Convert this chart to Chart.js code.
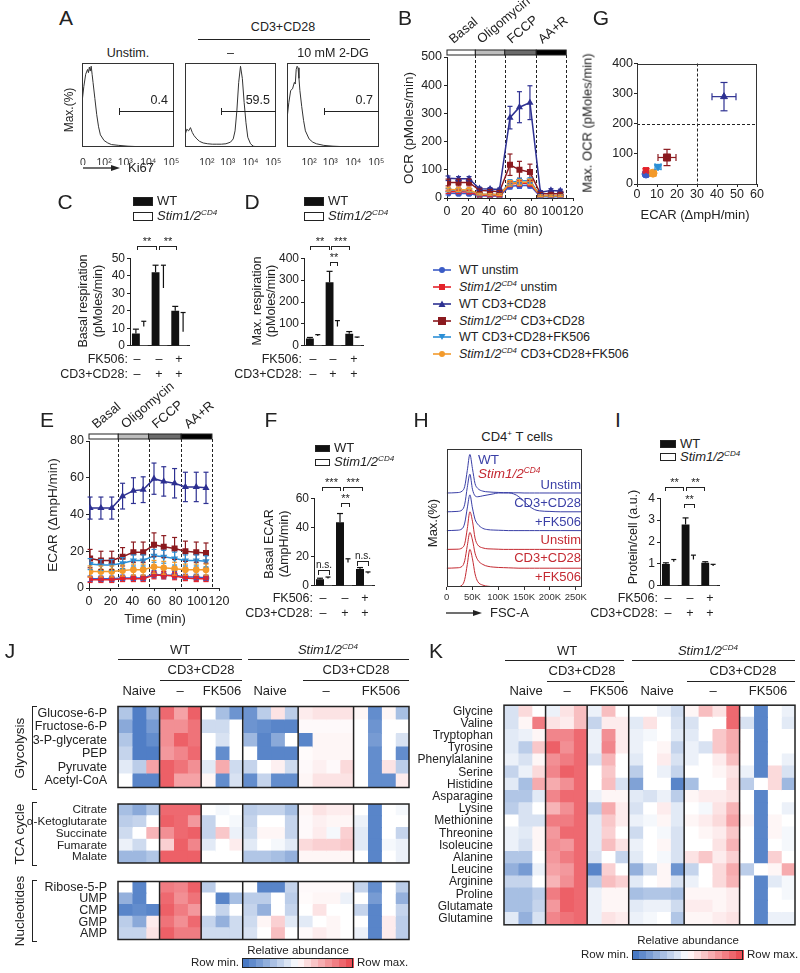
<!DOCTYPE html>
<html>
<head>
<meta charset="utf-8">
<title>Stim1/2 T cell metabolism</title>
<script src="https://cdn.jsdelivr.net/npm/chart.js@4.4.1/dist/chart.umd.min.js"></script>
<style>
  body { margin: 0; width: 800px; height: 973px; position: relative; overflow: hidden; background: #fff;
         font-family: "Liberation Sans", Arial, Helvetica, sans-serif; color: #222; }
  canvas { position: absolute; }
  .t { position: absolute; white-space: nowrap; line-height: 1.15; }
  .t sup { font-size: 62%; position: relative; top: -0.6em; vertical-align: baseline; line-height: 0; }
  .box { position: absolute; box-sizing: border-box; }
</style>
</head>
<body>
<script>
// ---------------- data ----------------

// A: Ki67 histograms (x in display units of the biexponential axis, y in % of max)
const kiTickPos = [1, 24, 47, 72, 97];
const kiTickLabels = ['0', '10²', '10³', '10⁴', '10⁵'];
const kiTitles = ['Unstim.', '–', '10 mM 2-DG'];
const kiGateValues = ['0.4', '59.5', '0.7'];
const kiUnstimX = [0, 2, 4, 6, 7, 8, 9, 10, 11, 12, 14, 16, 18, 20, 24, 28, 32, 40, 50, 60, 80, 100];
const kiUnstimY = [55, 75, 90, 96, 92, 99, 94, 100, 90, 80, 60, 40, 25, 15, 8, 5, 3, 2, 1, 0.5, 0, 0];
const kiStimX = [0, 2, 4, 6, 8, 10, 13, 16, 20, 25, 30, 35, 40, 45, 50, 53, 55, 57, 59, 61, 63, 65, 67, 69, 72, 75, 80, 90, 100];
const kiStimY = [15, 22, 20, 24, 18, 14, 10, 7, 5, 4, 3.5, 3.5, 3.5, 4, 6, 10, 20, 45, 80, 100, 85, 55, 30, 12, 4, 1, 0, 0, 0];
const kiDgX = [0, 2, 4, 6, 8, 9, 10, 11, 12, 13, 14, 16, 18, 20, 24, 28, 32, 40, 50, 60, 80, 100];
const kiDgY = [35, 55, 70, 72, 80, 78, 96, 100, 98, 85, 70, 50, 33, 20, 10, 6, 4, 2, 1, 0.5, 0, 0];

// B / E: Seahorse time courses
const times = [1, 11, 21, 31, 41, 50, 60, 69, 79, 89, 99, 108];
const injections = [0, 27, 55, 85, 113.5];
const protocolSteps = ['Basal', 'Oligomycin', 'FCCP', 'AA+R'];
const groupNames = ['WT unstim', '<i>Stim1/2<sup>CD4</sup></i> unstim', 'WT CD3+CD28',
  '<i>Stim1/2<sup>CD4</sup></i> CD3+CD28', 'WT CD3+CD28+FK506', '<i>Stim1/2<sup>CD4</sup></i> CD3+CD28+FK506'];

const ocrWtUnstim   = [17, 16, 16, 8, 7, 7, 42, 44, 45, 4, 4, 4];
const ocrStimUnstim = [22, 22, 21, 10, 9, 9, 50, 52, 52, 6, 6, 6];
const ocrWtCd3      = [70, 68, 68, 33, 32, 30, 285, 322, 338, 20, 27, 25];
const ocrStimCd3    = [55, 55, 55, 27, 25, 22, 118, 100, 92, 15, 15, 15];
const ocrWtFk       = [28, 27, 27, 13, 12, 12, 55, 60, 62, 7, 7, 7];
const ocrStimFk     = [30, 29, 28, 14, 13, 12, 52, 55, 57, 8, 8, 8];
const ocrErrSmall   = [6, 6, 6, 3, 3, 3, 10, 10, 10, 3, 3, 3];
const ocrErrWtCd3   = [8, 8, 8, 5, 5, 5, 40, 55, 60, 6, 6, 6];
const ocrErrStimCd3 = [12, 12, 12, 5, 5, 5, 38, 30, 28, 5, 5, 5];

const ecarWtUnstim   = [5, 5, 5, 5.5, 5.5, 5.5, 7.5, 7, 7, 6, 6, 5.5];
const ecarStimUnstim = [4.5, 4.5, 4.5, 5, 5, 5, 7, 7, 6.5, 5.5, 5, 5];
const ecarWtCd3      = [43.5, 43.5, 43.5, 50, 53, 53.5, 59.5, 58, 57, 55, 55, 54.5];
const ecarStimCd3    = [16, 15, 15, 17, 19.5, 19.5, 23.5, 22.5, 21.5, 20, 19.5, 19];
const ecarWtFk       = [13, 12.5, 12.5, 13.5, 15, 15, 17.5, 17, 16, 15, 15, 14.5];
const ecarStimFk     = [9, 9, 9, 9.5, 10, 10, 11.5, 11, 10.5, 10, 10, 10];
const ecarErrUnstim  = [1.5, 1.5, 1.5, 1.5, 1.5, 1.5, 2, 2, 2, 1.5, 1.5, 1.5];
const ecarErrFk      = [3, 3, 3, 3, 3, 3, 3.5, 3.5, 3.5, 3, 3, 3];
const ecarErrWtCd3   = [6, 6, 6, 7, 7, 7, 8.5, 8, 8, 8, 8, 8.5];
const ecarErrStimCd3 = [5, 5, 5, 5, 5.5, 5.5, 6.5, 6, 6, 5.5, 5.5, 5.5];

// G: max OCR vs ECAR
const gEcar      = [4.5, 4.5, 43.5, 15, 10.5, 8];
const gEcarErr   = [1, 1, 6, 4.5, 1.5, 1.5];
const gMaxOcr    = [33, 45, 290, 88, 57, 36];
const gMaxOcrErr = [5, 6, 47, 27, 8, 4];
const gCuts = [30, 200];

// C, D, F, I: bar charts (unstim, CD3+CD28, CD3+CD28+FK506)
const fk506Row = ['–', '–', '+'];
const cd3Row   = ['–', '+', '+'];
const basalRespWt = [7, 42, 20],      basalRespWtErr = [2.5, 4, 2.5];
const basalRespStim = [11, 33, 8],    basalRespStimErr = [3, 13, 11];
const maxRespWt = [33, 290, 55],      maxRespWtErr = [5, 50, 10];
const maxRespStim = [45, 88, 36],     maxRespStimErr = [6, 27, 4];
const basalEcarWt = [4.5, 43.5, 11.5], basalEcarWtErr = [0.7, 6, 1];
const basalEcarStim = [5, 16, 8.5],   basalEcarStimErr = [1, 2.5, 1];
const proteinWt = [1, 2.8, 1.05],     proteinWtErr = [0.05, 0.3, 0.05];
const proteinStim = [1.1, 1.2, 0.9],  proteinStimErr = [0.1, 0.2, 0.08];

// H: FSC-A histograms (x in thousands)
const fscX = [0, 20, 30, 35, 40, 45, 50, 55, 60, 70, 80, 90, 100, 110, 120, 130, 140, 150, 160, 170, 180, 200, 220, 262];
const fscTicks = [0, 50, 100, 150, 200, 250];
const fscLabels = ['Unstim', 'CD3+CD28', '+FK506', 'Unstim', 'CD3+CD28', '+FK506'];
const fscWtUnstim   = [0, 0.02, 0.1, 0.35, 1.2, 2.05, 1.3, 0.5, 0.25, 0.1, 0.06, 0.04, 0.03, 0.02, 0.02, 0.01, 0.01, 0, 0, 0, 0, 0, 0, 0];
const fscWtCd3      = [0, 0.02, 0.1, 0.4, 1.3, 2.0, 1.2, 0.85, 0.8, 0.85, 0.9, 0.95, 1.0, 1.0, 1.0, 0.95, 0.8, 0.55, 0.3, 0.12, 0.05, 0.02, 0, 0];
const fscWtFk       = [0, 0.02, 0.1, 0.4, 1.2, 1.9, 1.2, 0.6, 0.35, 0.12, 0.05, 0.03, 0.02, 0.01, 0, 0, 0, 0, 0, 0, 0, 0, 0, 0];
const fscStimUnstim = [0, 0.01, 0.08, 0.3, 1.1, 2.0, 1.5, 0.6, 0.25, 0.08, 0.03, 0.02, 0.01, 0, 0, 0, 0, 0, 0, 0, 0, 0, 0, 0];
const fscStimCd3    = [0, 0.02, 0.1, 0.4, 1.2, 1.9, 1.5, 0.8, 0.45, 0.2, 0.1, 0.06, 0.04, 0.03, 0.02, 0.01, 0, 0, 0, 0, 0, 0, 0, 0];
const fscStimFk     = [0, 0.01, 0.1, 0.4, 1.2, 2.0, 1.5, 0.7, 0.3, 0.1, 0.04, 0.02, 0.01, 0, 0, 0, 0, 0, 0, 0, 0, 0, 0, 0];

// J, K: heatmaps, row-scaled (-1 = row min, +1 = row max)
// columns: WT naive(3) | WT CD3+CD28(3) | WT FK506(3) | Stim naive(4) | Stim CD3+CD28(4) | Stim FK506(4)
const colGroupSizes = [3, 3, 3, 4, 4, 4];
const glycolysisRows = ['Glucose-6-P', 'Fructose-6-P', '3-P-glycerate', 'PEP', 'Pyruvate', 'Acetyl-CoA'];
const glycolysis = [
  [-0.4, -0.9, -0.55, 0.8, 0.5, 0.85, 0, -0.45, -0.75, -0.75, -0.35, 0.15, -0.35, 0.1, 0.15, 0.15, 0.15, 0.05, -0.8, 0.05, -0.45],
  [-0.6, -0.9, -0.7, 0.6, 0.6, 0.75, -0.25, -0.25, 0, -0.75, -0.8, -0.85, -0.85, 0.03, 0.03, 0.03, 0.03, 0, -0.75, 0, 0],
  [-0.4, -0.9, -0.8, 0.6, 0.85, 0.75, 0, -0.2, 0, -0.5, -0.85, -0.6, 0, -0.85, 0.05, 0.05, 0.05, 0, -0.7, 0, -0.2],
  [-0.3, -0.9, -0.9, 0.55, 0.65, 0.8, 0, -0.8, 0, 0, -0.85, -0.85, -0.85, 0.02, 0.05, 0.05, 0.05, 0, -0.8, 0, -0.8],
  [-0.15, -0.35, 0.5, 0.85, 0.75, 0.6, -0.15, 0.45, -0.25, -0.3, 0, 0.08, -0.25, 0.03, 0.08, 0.03, 0.2, 0, -0.8, 0.15, -0.35],
  [0, -0.85, -0.85, 0.85, 0.5, 0.5, 0.05, -0.8, -0.2, -0.8, -0.3, -0.8, -0.8, 0.05, 0.15, 0.15, 0.15, 0, -0.8, -0.8, 0.1]
];
const tcaRows = ['Citrate', 'α-Ketoglutarate', 'Succinate', 'Fumarate', 'Malate'];
const tca = [
  [-0.45, -0.6, -0.4, 0.8, 0.8, 0.8, 0, -0.05, 0, -0.35, -0.3, -0.3, -0.45, 0.05, 0.15, 0.1, 0.1, 0, -0.85, 0, -0.05],
  [-0.35, -0.3, 0, 0.85, 0.8, 0.55, -0.3, 0, -0.05, -0.3, 0, 0, -0.3, 0.03, 0.08, 0.05, 0.05, -0.1, -0.85, 0, 0],
  [-0.25, 0, 0.4, 0.6, 0.8, 0.85, -0.3, 0.3, -0.1, -0.25, 0.05, 0.05, -0.3, 0.03, 0.1, -0.05, 0.25, -0.15, -0.85, 0, -0.3],
  [-0.1, -0.25, 0, 0.25, 0.85, 0.65, -0.15, 0, 0.1, -0.15, 0, -0.05, -0.15, 0.2, 0.25, 0.25, 0.3, -0.15, -0.85, -0.05, -0.1],
  [-0.5, -0.5, -0.4, 0.85, 0.85, 0.85, 0, 0, 0, -0.4, -0.4, -0.45, -0.55, 0.05, 0.05, 0.05, 0.05, 0, -0.85, 0, -0.1]
];
const nucleotideRows = ['Ribose-5-P', 'UMP', 'CMP', 'GMP', 'AMP'];
const nucleotides = [
  [0, -0.85, 0, 0.7, 0.65, 0.85, -0.35, 0, 0, 0, -0.85, -0.85, -0.3, 0.03, 0.03, 0.03, 0.03, -0.3, -0.8, 0, -0.35],
  [-0.55, -0.85, 0, 0.8, 0.6, 0.75, 0, -0.85, -0.45, -0.35, -0.35, 0, -0.35, 0.02, 0.05, 0.05, -0.1, 0, -0.7, 0, -0.55],
  [-0.85, -0.8, -0.85, 0.85, 0.7, 0.55, 0, -0.3, 0, -0.3, -0.55, 0, -0.3, 0, 0.15, 0, 0, -0.3, -0.85, 0, -0.3],
  [-0.35, -0.6, 0.1, 0.75, 0.6, 0.8, -0.3, -0.55, -0.25, -0.25, 0.05, 0.25, -0.15, -0.15, 0, 0.05, 0, 0, -0.85, 0.1, -0.35],
  [-0.3, -0.3, 0.15, 0.85, 0.7, 0.7, -0.25, -0.25, -0.25, -0.2, 0, 0.35, 0, 0.03, 0.1, 0.05, 0, -0.1, -0.85, 0.1, -0.35]
];
const aminoRows = ['Glycine', 'Valine', 'Tryptophan', 'Tyrosine', 'Phenylalanine', 'Serine', 'Histidine', 'Asparagine', 'Lysine',
  'Methionine', 'Threonine', 'Isoleucine', 'Alanine', 'Leucine', 'Arginine', 'Proline', 'Glutamate', 'Glutamine'];
const aminoAcids = [
  [-0.2, 0.2, 0, -0.1, 0.15, 0.35, -0.1, 0.35, 0, 0, 0, -0.1, -0.25, 0.05, 0.35, 0.15, 0.8, 0, -0.85, 0, -0.1],
  [-0.2, 0.05, 0.7, 0.15, 0.1, 0.35, -0.3, 0.1, 0.1, -0.15, 0.15, 0, -0.2, -0.2, 0, 0, 0.8, -0.2, -0.85, 0, -0.15],
  [-0.15, -0.1, 0.05, 0.65, 0.65, 0.8, -0.1, 0.6, 0.1, -0.1, -0.05, 0, -0.15, -0.15, 0, 0.3, 0.45, 0, -0.85, 0, 0],
  [-0.15, -0.35, 0.3, 0.85, 0.6, 0.8, -0.1, 0.65, 0.1, -0.1, 0, 0.05, -0.3, -0.1, -0.2, 0.3, 0.45, 0, -0.85, 0, 0],
  [-0.1, -0.2, 0.05, 0.6, 0.7, 0.8, -0.2, 0.4, 0, -0.15, 0, 0.1, -0.2, -0.1, 0, 0.1, 0.35, 0, -0.85, 0, -0.1],
  [-0.3, -0.1, 0.2, 0.65, 0.85, 0.8, 0, 0.3, 0, -0.35, 0, -0.1, -0.3, 0, 0, 0.05, 0.15, -0.1, -0.85, 0.2, -0.2],
  [-0.15, -0.45, 0.45, 0.45, 0.6, 0.8, 0, 0.35, -0.2, -0.65, 0, 0, -0.85, -0.45, 0, 0, 0.2, -0.35, 0, 0.2, -0.5],
  [-0.4, -0.4, -0.15, 0.65, 0.8, 0.8, -0.1, 0.05, 0.05, -0.15, -0.2, -0.1, -0.35, 0.05, 0.1, 0.1, 0.15, 0, -0.85, 0, 0],
  [-0.35, -0.2, 0, 0.4, 0.6, 0.8, -0.35, 0.45, 0.1, -0.2, 0, 0.1, -0.15, 0, -0.05, 0.15, 0.4, 0, -0.85, 0, -0.1],
  [0, -0.2, -0.2, 0.7, 0.7, 0.8, -0.15, 0.3, 0.1, -0.1, -0.05, 0.05, -0.15, 0.05, 0.1, 0.2, 0.5, 0.05, -0.85, 0.05, 0],
  [-0.1, -0.15, 0.05, 0.55, 0.8, 0.8, -0.15, 0.25, 0, -0.25, 0, -0.05, -0.2, 0, 0.05, 0.1, 0.3, 0, -0.85, 0.05, -0.05],
  [-0.1, -0.2, 0.05, 0.6, 0.55, 0.8, -0.15, 0.35, 0.15, -0.1, 0, 0.05, -0.2, 0, 0, 0.15, 0.4, 0, -0.85, 0, -0.05],
  [-0.4, -0.4, 0, 0.55, 0.7, 0.8, -0.2, 0, -0.3, -0.15, 0, -0.05, -0.2, 0.15, 0.3, 0.1, 0.25, 0, -0.85, 0.25, 0],
  [-0.55, -0.7, -0.1, 0.5, 0.55, 0.8, -0.85, 0.25, 0, -0.55, -0.25, 0.05, -0.75, -0.3, 0, 0.2, 0.45, -0.35, 0, 0.05, 0.45],
  [-0.3, -0.3, 0, 0.4, 0.6, 0.8, -0.35, 0.35, 0.25, -0.15, 0, 0.05, -0.2, -0.1, 0, 0.2, 0.4, 0, -0.85, -0.15, -0.05],
  [-0.45, -0.45, -0.35, 0.7, 0.85, 0.8, -0.1, 0.05, 0.05, -0.45, -0.4, -0.4, -0.45, 0.05, 0.05, 0.05, 0.1, 0, -0.85, 0, -0.05],
  [-0.45, -0.45, -0.3, 0.55, 0.85, 0.8, -0.1, 0.05, 0.05, -0.15, -0.1, -0.1, -0.25, 0.1, 0.1, 0.05, 0.1, 0, -0.85, 0, 0],
  [-0.15, -0.55, -0.2, 0.65, 0.75, 0.8, -0.1, 0.15, 0.1, -0.1, -0.05, 0, -0.4, 0.05, 0.05, 0.1, 0.15, 0, -0.85, -0.1, -0.1]
];

// ---------------- styles ----------------
const seriesColors = ['#3b5cc6', '#e4232b', '#2e3192', '#8b1a1f', '#2b8fd6', '#f39a2b'];
const seriesMarkers = ['circle', 'rect', 'triangle', 'rect', 'triangle', 'circle'];
const seriesRot = [0, 0, 0, 0, 180, 0];
const drawOrder = [5, 4, 0, 1, 3, 2];
const wtBlue = '#3a3fa6', stimRed = '#c42a32';
const ink = '#222';

Chart.defaults.font.family = '"Liberation Sans", Arial, Helvetica, sans-serif';
Chart.defaults.color = ink;
Chart.defaults.plugins.legend.display = false;
Chart.defaults.plugins.tooltip.enabled = false;

// ---------------- helpers ----------------
function text(s, x, y, o = {}) {
  const d = document.createElement('div');
  d.className = 't';
  d.innerHTML = s;
  d.style.left = x + 'px';
  d.style.top = y + 'px';
  d.style.fontSize = (o.fs || 12.5) + 'px';
  if (o.color) d.style.color = o.color;
  const tx = { l: '0', c: '-50%', r: '-100%' }[o.a || 'c'];
  d.style.transform = `translate(${tx},-50%)` + (o.rot ? ` rotate(${o.rot}deg)` : '');
  document.body.appendChild(d);
  return d;
}
function slant(s, x, y) {
  const d = text(s, x, y, { a: 'l', fs: 13 });
  d.style.transformOrigin = '0 100%';
  d.style.transform = 'translate(0,-100%) rotate(-40deg)';
}
function rule(x1, x2, y, w = 1) {
  const d = document.createElement('div');
  d.className = 'box';
  d.style.cssText += `left:${x1}px;top:${y}px;width:${x2 - x1}px;height:${w}px;background:${ink}`;
  document.body.appendChild(d);
}
function vrule(x, y1, y2, w = 1) {
  const d = document.createElement('div');
  d.className = 'box';
  d.style.cssText += `left:${x}px;top:${y1}px;width:${w}px;height:${y2 - y1}px;background:${ink}`;
  document.body.appendChild(d);
}
function bracket(x1, x2, y, label, leg = 4, fs = 11) {
  const d = document.createElement('div');
  d.className = 'box';
  d.style.cssText += `left:${x1}px;top:${y}px;width:${x2 - x1}px;height:${leg}px;border:1px solid ${ink};border-bottom:none`;
  document.body.appendChild(d);
  text(label, (x1 + x2) / 2, y - 5, { fs });
}
function arrow(x1, x2, y) {
  const w = x2 - x1;
  document.body.insertAdjacentHTML('beforeend',
    `<svg width="${w + 1}" height="8" style="position:absolute;left:${x1}px;top:${y - 4}px">` +
    `<line x1="0" y1="4" x2="${w - 6}" y2="4" stroke="${ink}" stroke-width="1.3"/>` +
    `<polygon points="${w - 9},1 ${w},4 ${w - 9},7" fill="${ink}"/></svg>`);
}
function square(x, y, w, h, fill) {
  const d = document.createElement('div');
  d.className = 'box';
  d.style.cssText += `left:${x}px;top:${y}px;width:${w}px;height:${h}px;background:${fill};border:1px solid ${ink}`;
  document.body.appendChild(d);
}
function barLegend(x, y, w, h, gap) {
  square(x, y - h / 2, w, h, '#111');
  square(x, y + gap - h / 2, w, h, '#fff');
  text('WT', x + w + 4, y, { a: 'l', fs: 13 });
  text('<i>Stim1/2<sup>CD4</sup></i>', x + w + 4, y + gap, { a: 'l', fs: 13 });
}
function treatmentRows(xRight, xs, y) {
  text('FK506:', xRight, y, { a: 'r' });
  text('CD3+CD28:', xRight, y + 15, { a: 'r' });
  xs.forEach((x, i) => { text(fk506Row[i], x, y); text(cd3Row[i], x, y + 15); });
}
function heat(v) {
  const c = v < 0 ? [60, 112, 192] : [234, 68, 76];
  const t = Math.min(1, Math.abs(v));
  return `rgb(${c.map(k => Math.round(255 + (k - 255) * t)).join(',')})`;
}
function colorBar(x, y, w, h) {
  const n = 16;
  for (let i = 0; i < n; i++) {
    const d = document.createElement('div');
    d.className = 'box';
    d.style.cssText += `left:${x + i * w / n}px;top:${y}px;width:${w / n + 0.6}px;height:${h}px;background:${heat(-1 + (2 * i + 1) / n)}`;
    document.body.appendChild(d);
  }
  const b = document.createElement('div');
  b.className = 'box';
  b.style.cssText += `left:${x}px;top:${y}px;width:${w}px;height:${h}px;border:1px solid ${ink}`;
  document.body.appendChild(b);
}

function lin(min, max, step, o = {}) {
  return {
    type: 'linear', min, max,
    ticks: { stepSize: step, font: { size: o.fs || 12 }, padding: o.pad ?? 2, color: ink, autoSkip: false, maxRotation: 0 },
    grid: { display: true, drawOnChartArea: false, drawTicks: true, tickLength: o.tl ?? 3, color: ink, lineWidth: 1 },
    border: { display: true, color: ink, width: 1 }
  };
}

// box = plot area [x0, y0, x1, y1] in page px; m = [top, right, bottom, left] margins
function plot(box, m, cfg) {
  const [x0, y0, x1, y1] = box;
  const [mt, mr, mb, ml] = m;
  const W = x1 - x0 + ml + mr, H = y1 - y0 + mt + mb;
  const cv = document.createElement('canvas');
  cv.width = W; cv.height = H;
  Object.assign(cv.style, { left: (x0 - ml) + 'px', top: (y0 - mt) + 'px', width: W + 'px', height: H + 'px' });
  document.body.appendChild(cv);
  const o = cfg.options;
  o.responsive = false; o.animation = false; o.devicePixelRatio = 1;
  const sx = o.scales.x, sy = o.scales.y;
  o.layout = { padding: { top: mt, right: mr, bottom: sx.display === false ? mb : 0, left: sy.display === false ? ml : 0 } };
  if (sx.display !== false) sx.afterFit = s => { s.height = mb; };
  if (sy.display !== false) sy.afterFit = s => { s.width = ml; };
  const chart = new Chart(cv, cfg);
  chart.pageLeft = x0 - ml; chart.pageTop = y0 - mt;
  return chart;
}

// ---------------- plugins ----------------
const framePlugin = {
  id: 'frame',
  afterDraw(chart) {
    const { ctx, chartArea: a } = chart;
    ctx.save();
    ctx.strokeStyle = '#333'; ctx.lineWidth = 1;
    ctx.strokeRect(Math.round(a.left) + 0.5, Math.round(a.top) + 0.5, Math.round(a.width) - 1, Math.round(a.height) - 1);
    ctx.restore();
  }
};
const errPlugin = {
  id: 'errs',
  afterDatasetsDraw(chart) {
    const { ctx, scales: { x, y } } = chart;
    chart.data.datasets.forEach((ds, i) => {
      if (!ds.err) return;
      const meta = chart.getDatasetMeta(i);
      const cap = ds.cap || 2.5;
      ctx.save();
      ctx.strokeStyle = ds.errColor || ds.borderColor;
      ctx.lineWidth = ds.errWidth || 1.2;
      const seg = (ax, ay, bx, by) => { ctx.beginPath(); ctx.moveTo(ax, ay); ctx.lineTo(bx, by); ctx.stroke(); };
      meta.data.forEach((el, j) => {
        const raw = ds.data[j];
        const vy = typeof raw === 'object' ? raw.y : raw;
        const top = y.getPixelForValue(vy + ds.err[j]);
        const bot = ds.upOnly ? el.y : y.getPixelForValue(vy - ds.err[j]);
        seg(el.x, top, el.x, bot);
        seg(el.x - cap, top, el.x + cap, top);
        if (!ds.upOnly) seg(el.x - cap, bot, el.x + cap, bot);
        if (ds.xerr) {
          const l = x.getPixelForValue(raw.x - ds.xerr[j]), r = x.getPixelForValue(raw.x + ds.xerr[j]);
          seg(l, el.y, r, el.y);
          seg(l, el.y - cap, l, el.y + cap);
          seg(r, el.y - cap, r, el.y + cap);
        }
      });
      ctx.restore();
    });
  }
};
const protocolPlugin = {
  id: 'protocol',
  beforeDatasetsDraw(chart) {
    const { ctx, chartArea: a, scales: { x } } = chart;
    const shades = ['#ffffff', '#bdbdbd', '#6b6b6b', '#000000'];
    ctx.save();
    ctx.lineWidth = 1; ctx.strokeStyle = ink;
    for (let i = 0; i < protocolSteps.length; i++) {
      const l = x.getPixelForValue(injections[i]), r = x.getPixelForValue(injections[i + 1]);
      ctx.fillStyle = shades[i];
      ctx.fillRect(l, a.top - 7, r - l, 5);
      ctx.strokeRect(l, a.top - 7, r - l, 5);
    }
    ctx.setLineDash([3, 2]);
    for (let i = 1; i < injections.length; i++) {
      const px = Math.round(x.getPixelForValue(injections[i])) + 0.5;
      ctx.beginPath(); ctx.moveTo(px, a.top - 2); ctx.lineTo(px, a.bottom); ctx.stroke();
    }
    ctx.restore();
  }
};
const cutPlugin = {
  id: 'cuts',
  beforeDatasetsDraw(chart) {
    const { ctx, chartArea: a, scales: { x, y } } = chart;
    ctx.save();
    ctx.strokeStyle = ink; ctx.lineWidth = 1; ctx.setLineDash([3, 2]);
    const px = Math.round(x.getPixelForValue(gCuts[0])) + 0.5, py = Math.round(y.getPixelForValue(gCuts[1])) + 0.5;
    ctx.beginPath(); ctx.moveTo(px, a.top); ctx.lineTo(px, a.bottom); ctx.stroke();
    ctx.beginPath(); ctx.moveTo(a.left, py); ctx.lineTo(a.right, py); ctx.stroke();
    ctx.restore();
  }
};
const groupPlugin = {
  id: 'groups',
  afterDatasetsDraw(chart) {
    const { ctx, chartArea: a, scales: { x } } = chart;
    ctx.save();
    ctx.strokeStyle = ink; ctx.lineWidth = 1.5;
    let c = 0;
    colGroupSizes.slice(0, -1).forEach(n => {
      c += n;
      const px = x.getPixelForValue(c);
      ctx.beginPath(); ctx.moveTo(px, a.top); ctx.lineTo(px, a.bottom); ctx.stroke();
    });
    ctx.strokeRect(a.left, a.top, a.width, a.height);
    ctx.restore();
  }
};

// ---------------- panel builders ----------------
function timePanel(box, yMax, yStep, vals, errs) {
  return plot(box, [10, 14, 20, 40], {
    type: 'line',
    data: {
      datasets: vals.map((v, k) => ({
        data: times.map((t, i) => ({ x: t, y: v[i] })),
        err: errs[k], errColor: seriesColors[k], cap: 2.5,
        borderColor: seriesColors[k], backgroundColor: seriesColors[k], borderWidth: 1.5,
        pointStyle: seriesMarkers[k], pointRotation: seriesRot[k], pointRadius: k === 3 ? 3.2 : 2.6,
        tension: 0, order: drawOrder[k]
      }))
    },
    options: { scales: { x: lin(0, 120, 20, { fs: 12.5, pad: 3 }), y: lin(0, yMax, yStep, { fs: 12.5, pad: 2 }) } },
    plugins: [protocolPlugin, errPlugin]
  });
}
function barPanel(box, yMax, step, wt, wtErr, st, stErr) {
  return plot(box, [8, 4, 8, 30], {
    type: 'bar',
    data: {
      labels: fk506Row.map((_, i) => 'c' + i),
      datasets: [
        { data: wt, err: wtErr, upOnly: true, backgroundColor: '#111', errColor: '#111', cap: 3 },
        { data: st, err: stErr, upOnly: true, backgroundColor: '#fff', errColor: '#111', cap: 2.5 }
      ]
    },
    options: {
      datasets: { bar: { barPercentage: 1, categoryPercentage: 0.8, borderWidth: 0 } },
      scales: {
        x: { type: 'category', ticks: { display: false }, grid: { display: false }, border: { display: true, color: ink } },
        y: lin(0, yMax, step, { fs: 12, pad: 2 })
      }
    },
    plugins: [errPlugin]
  });
}
function heatPanel(box, rows, M, ml, fs) {
  const cols = M[0].length;
  return plot(box, [9, 2, 9, ml], {
    type: 'bar',
    data: {
      labels: rows,
      datasets: M[0].map((_, j) => ({
        data: rows.map(() => [j, j + 1]),
        backgroundColor: M.map(r => heat(r[j]))
      }))
    },
    options: {
      indexAxis: 'y',
      datasets: { bar: { grouped: false, barPercentage: 1, categoryPercentage: 1, borderWidth: 0, inflateAmount: 0.6 } },
      scales: {
        x: { type: 'linear', min: 0, max: cols, display: false },
        y: { type: 'category', ticks: { font: { size: fs }, padding: 3, color: ink, autoSkip: false },
             grid: { display: false }, border: { display: false } }
      }
    },
    plugins: [groupPlugin]
  });
}

// ---------------- A ----------------
text('A', 66, 18, { fs: 21 });
text('CD3+CD28', 283, 27);
rule(198, 370, 39);
const kiBoxes = [[82, 63, 174, 147], [185, 63, 276, 147], [287, 63, 379, 147]];
[[kiUnstimX, kiUnstimY], [kiStimX, kiStimY], [kiDgX, kiDgY]].forEach(([xs, ys], k) => {
  const [x0, y0, x1, y1] = kiBoxes[k];
  plot(kiBoxes[k], [2, 10, 18, 5], {
    type: 'line',
    data: { datasets: [{ data: xs.map((x, i) => ({ x, y: ys[i] })), borderColor: '#333', borderWidth: 1, pointRadius: 0, tension: 0 }] },
    options: {
      scales: {
        x: {
          type: 'linear', min: 0, max: 100,
          afterBuildTicks: s => { s.ticks = kiTickPos.slice(k ? 1 : 0).map(v => ({ value: v })); },
          ticks: { callback: v => kiTickLabels[kiTickPos.indexOf(v)], font: { size: 10.5 }, padding: 2, color: '#333', autoSkip: false, maxRotation: 0 },
          grid: { display: false }, border: { display: false }
        },
        y: { min: 0, max: 104, display: false }
      }
    },
    plugins: [framePlugin]
  });
  text(kiTitles[k], (x0 + x1) / 2, 53);
  const gx = x0 + (x1 - x0) * 0.4, gy = 111;
  rule(gx, x1, gy);
  vrule(gx, gy - 3, gy + 4);
  text(kiGateValues[k], x1 - 6, 100, { a: 'r', fs: 12.5 });
});
text('Max.(%)', 70, 110, { rot: -90, fs: 12 });
arrow(83, 120, 168);
text('Ki67', 128, 168, { a: 'l', fs: 13 });

// ---------------- B ----------------
text('B', 405, 18, { fs: 21 });
const chartB = timePanel([447, 57, 573, 198], 500, 100,
  [ocrWtUnstim, ocrStimUnstim, ocrWtCd3, ocrStimCd3, ocrWtFk, ocrStimFk],
  [ocrErrSmall, ocrErrSmall, ocrErrWtCd3, ocrErrStimCd3, ocrErrSmall, ocrErrSmall]);
protocolSteps.forEach((s, i) => slant(s, chartB.pageLeft + chartB.scales.x.getPixelForValue(injections[i]) + 9, 47));
text('OCR (pMoles/min)', 409, 128, { rot: -90, fs: 13.5 });
text('Time (min)', 512, 229, { fs: 13 });

// ---------------- G ----------------
text('G', 601, 18, { fs: 21 });
plot([637, 63, 757, 184], [8, 12, 16, 40], {
  type: 'scatter',
  data: {
    datasets: gEcar.map((x, k) => ({
      data: [{ x, y: gMaxOcr[k] }], err: [gMaxOcrErr[k]], xerr: [gEcarErr[k]], cap: 3.5,
      errColor: seriesColors[k], backgroundColor: seriesColors[k], borderColor: seriesColors[k],
      pointStyle: seriesMarkers[k], pointRotation: seriesRot[k], pointRadius: k === 3 ? 5 : 4, order: drawOrder[k]
    }))
  },
  options: { scales: { x: lin(0, 60, 10, { fs: 12.5, pad: 0 }), y: lin(0, 400, 100, { fs: 12.5, pad: 1 }) } },
  plugins: [framePlugin, cutPlugin, errPlugin]
});
text('Max. OCR (pMoles/min)', 588, 123, { rot: -90, fs: 13 });
text('ECAR (ΔmpH/min)', 695, 215, { fs: 13 });

// ---------------- legend ----------------
const legendY = [270, 287, 304, 321, 337, 354];
groupNames.forEach((name, k) => {
  const c = seriesColors[k];
  let mk;
  if (seriesMarkers[k] === 'circle') mk = `<circle cx="9" cy="5" r="3" fill="${c}"/>`;
  else if (seriesMarkers[k] === 'rect') { const r = k === 3 ? 4 : 3; mk = `<rect x="${9 - r}" y="${5 - r}" width="${2 * r}" height="${2 * r}" fill="${c}"/>`; }
  else mk = `<polygon points="${seriesRot[k] ? '5.5,2 12.5,2 9,8' : '9,1.5 12.5,8 5.5,8'}" fill="${c}"/>`;
  document.body.insertAdjacentHTML('beforeend',
    `<svg width="18" height="10" style="position:absolute;left:433px;top:${legendY[k] - 5}px">` +
    `<line x1="0" y1="5" x2="18" y2="5" stroke="${c}" stroke-width="1.6"/>${mk}</svg>`);
  text(name, 459, legendY[k], { a: 'l', fs: 12.5 });
});

// ---------------- C ----------------
text('C', 65, 202, { fs: 21 });
barLegend(133, 201, 20, 9, 15);
barPanel([130, 257, 189, 347], 50, 10, basalRespWt, basalRespWtErr, basalRespStim, basalRespStimErr);
bracket(137, 157, 246, '**');
bracket(159, 177, 246, '**');
text('Basal respiration', 83, 301, { rot: -90, fs: 12.5 });
text('(pMoles/min)', 98, 301, { rot: -90, fs: 12.5 });
treatmentRows(128, [137, 159, 179], 359);

// ---------------- D ----------------
text('D', 252, 202, { fs: 21 });
barLegend(304, 201, 20, 9, 15);
barPanel([304, 257, 363, 347], 400, 100, maxRespWt, maxRespWtErr, maxRespStim, maxRespStimErr);
bracket(310, 330, 246, '**');
bracket(331, 350, 246, '***');
bracket(330, 338, 262, '**');
text('Max. respiration', 257, 301, { rot: -90, fs: 12.5 });
text('(pMoles/min)', 271, 301, { rot: -90, fs: 12.5 });
treatmentRows(302, [313, 333, 354], 359);

// ---------------- E ----------------
text('E', 47, 420, { fs: 21 });
const chartE = timePanel([89, 441, 219, 588], 80, 20,
  [ecarWtUnstim, ecarStimUnstim, ecarWtCd3, ecarStimCd3, ecarWtFk, ecarStimFk],
  [ecarErrUnstim, ecarErrUnstim, ecarErrWtCd3, ecarErrStimCd3, ecarErrFk, ecarErrFk]);
protocolSteps.forEach((s, i) => slant(s, chartE.pageLeft + chartE.scales.x.getPixelForValue(injections[i]) + 10, 432));
text('ECAR (ΔmpH/min)', 53, 515, { rot: -90, fs: 13.5 });
text('Time (min)', 155, 619, { fs: 13 });

// ---------------- F ----------------
text('F', 271, 420, { fs: 21 });
barLegend(315, 448, 15, 7, 14);
barPanel([314, 497, 374, 587], 60, 20, basalEcarWt, basalEcarWtErr, basalEcarStim, basalEcarStimErr);
bracket(322, 341, 487, '***');
bracket(343, 363, 487, '***');
bracket(341, 350, 503, '**');
bracket(318, 330, 570, 'n.s.', 5, 10);
bracket(357, 369, 561, 'n.s.', 5, 10);
text('Basal ECAR', 269, 544, { rot: -90, fs: 12.5 });
text('(ΔmpH/min)', 284, 544, { rot: -90, fs: 12.5 });
treatmentRows(313, [323, 345, 365], 598);

// ---------------- H ----------------
text('H', 421, 420, { fs: 21 });
text('CD4<sup>+</sup> T cells', 517, 437, { fs: 13 });
const fscCurves = [fscWtUnstim, fscWtCd3, fscWtFk, fscStimUnstim, fscStimCd3, fscStimFk];
plot([446, 449, 582, 587], [2, 9, 22, 4], {
  type: 'line',
  data: {
    datasets: fscCurves.map((c, k) => ({
      data: fscX.map((x, i) => ({ x, y: c[i] + (fscCurves.length - 1 - k) })),
      borderColor: k < 3 ? wtBlue : stimRed, borderWidth: 1, pointRadius: 0, cubicInterpolationMode: 'monotone'
    }))
  },
  options: {
    scales: {
      x: {
        type: 'linear', min: 0, max: 262.144,
        afterBuildTicks: s => { s.ticks = fscTicks.map(v => ({ value: v })); },
        ticks: { callback: v => (v ? v + 'K' : '0'), font: { size: 9.5 }, padding: 2, color: '#333', autoSkip: false, maxRotation: 0 },
        grid: { display: true, drawOnChartArea: false, tickLength: 3, color: '#333' }, border: { display: false }
      },
      y: { min: 0, max: 7.34, display: false }
    }
  },
  plugins: [framePlugin]
});
text('WT', 478, 460, { a: 'l', fs: 13.5, color: wtBlue });
text('<i>Stim1/2<sup>CD4</sup></i>', 478, 474, { a: 'l', fs: 13.5, color: stimRed });
const fscLabelY = [485, 503, 522, 540, 558, 577];
fscLabels.forEach((s, k) => text(s, 581, fscLabelY[k], { a: 'r', fs: 13, color: k < 3 ? wtBlue : stimRed }));
text('Max.(%)', 433, 523, { rot: -90, fs: 13 });
arrow(446, 482, 613);
text('FSC-A', 490, 613, { a: 'l', fs: 13 });

// ---------------- I ----------------
text('I', 618, 420, { fs: 21 });
barLegend(660, 444, 16, 8, 13);
barPanel([660, 497, 719, 587], 4, 1, proteinWt, proteinWtErr, proteinStim, proteinStimErr);
bracket(665, 684, 487, '**');
bracket(686, 705, 487, '**');
bracket(684, 695, 504, '**');
text('Protein/cell (a.u.)', 633, 537, { rot: -90, fs: 12.5 });
treatmentRows(658, [668, 690, 710], 598);

// ---------------- J ----------------
text('J', 10, 651, { fs: 21 });
text('WT', 180, 650, { fs: 13 }); rule(118, 242, 659);
text('<i>Stim1/2<sup>CD4</sup></i>', 328, 650, { fs: 13 }); rule(248, 409, 659);
text('CD3+CD28', 201, 670, { fs: 13 }); rule(160, 242, 680);
text('CD3+CD28', 356, 670, { fs: 13 }); rule(303, 409, 680);
[['Naive', 139], ['–', 180], ['FK506', 222], ['Naive', 270], ['–', 326], ['FK506', 381]].forEach(([s, x]) => text(s, x, 691, { fs: 13 }));
heatPanel([118, 705, 409, 789], glycolysisRows, glycolysis, 115, 12.5);
heatPanel([118, 803, 409, 864], tcaRows, tca, 115, 11.7);
heatPanel([118, 880, 409, 941], nucleotideRows, nucleotides, 115, 12.5);
[['Glycolysis', 706, 790], ['TCA cycle', 802, 866], ['Nucleotides', 880, 942]].forEach(([s, a, b]) => {
  text(s, 20, (a + b) / 2, { rot: -90, fs: 13.5 });
  vrule(32, a, b);
  rule(32, 37, a); rule(32, 37, b - 1);
});
text('Relative abundance', 298, 951, { fs: 11.5 });
colorBar(242, 958, 111, 10);
text('Row min.', 239, 963, { a: 'r', fs: 11.5 });
text('Row max.', 357, 963, { a: 'l', fs: 11.5 });

// ---------------- K ----------------
text('K', 436, 651, { fs: 21 });
text('WT', 567, 651, { fs: 13 }); rule(505, 624, 660);
text('<i>Stim1/2<sup>CD4</sup></i>', 708, 651, { fs: 13 }); rule(632, 795, 660);
text('CD3+CD28', 582, 671, { fs: 13 }); rule(547, 624, 681);
text('CD3+CD28', 743, 671, { fs: 13 }); rule(687, 795, 681);
[['Naive', 526], ['–', 567], ['FK506', 609], ['Naive', 657], ['–', 713], ['FK506', 768]].forEach(([s, x]) => text(s, x, 691, { fs: 13 }));
heatPanel([504, 704, 795, 926], aminoRows, aminoAcids, 110, 12);
text('Relative abundance', 688, 941, { fs: 11.5 });
colorBar(632, 950, 111, 10);
text('Row min.', 629, 955, { a: 'r', fs: 11.5 });
text('Row max.', 747, 955, { a: 'l', fs: 11.5 });
</script>
</body>
</html>
